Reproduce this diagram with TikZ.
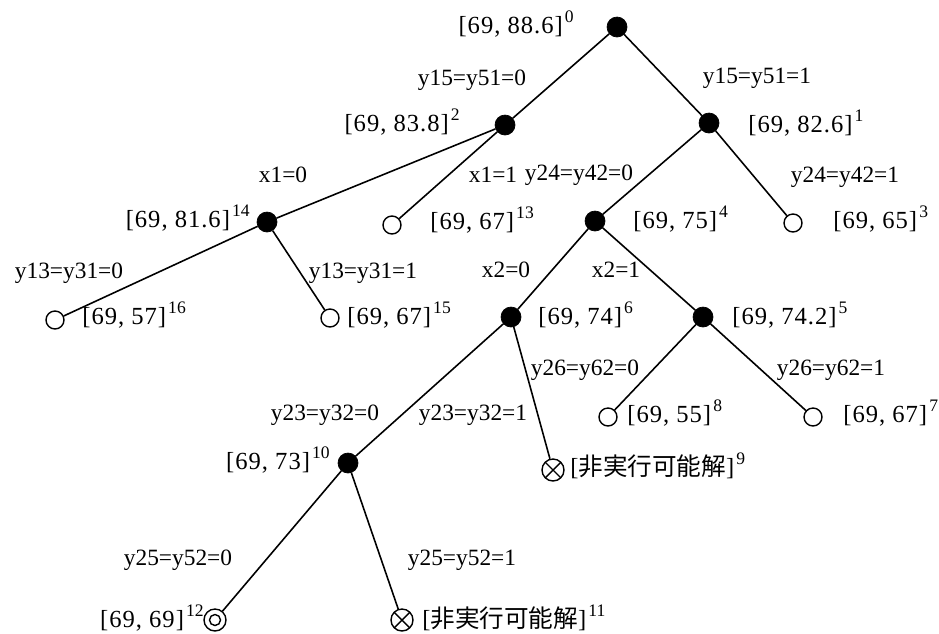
\documentclass[tikz,border=0pt]{standalone}
\usepackage{fontspec}
\setmainfont{Liberation Serif}
\newfontfamily\bndfont[LetterSpace=4]{Liberation Serif}
\newfontfamily\jpfont{Noto Sans CJK JP}
\usepackage{tikz}
\usetikzlibrary{positioning, calc}

% bound label and infeasible label
\newcommand{\nodeno}[1]{\kern1.2pt\raisebox{1ex}{\fontsize{10}{10}\selectfont #1}}
\newcommand{\bnd}[2]{{\bndfont [69, #1]}\nodeno{#2}}
\newcommand{\infs}[1]{[{\jpfont 非実行可能解}]\nodeno{#1}}

\begin{document}
\begin{tikzpicture}[
  x=0.02cm, y=-0.02cm,
  font=\fontsize{14}{16}\selectfont,
  solved/.style={circle, fill=black, draw, minimum size=0.4cm, inner sep=0pt},
  leaf/.style={circle, draw, line width=0.8pt, minimum size=0.36cm, inner sep=0pt},
  infeas/.style={circle, draw, line width=0.8pt, minimum size=0.44cm, inner sep=0pt,
    path picture={\draw[line width=0.8pt] (path picture bounding box.south west) -- (path picture bounding box.north east)
      (path picture bounding box.north west) -- (path picture bounding box.south east);}},
  best/.style={circle, draw, line width=0.8pt, minimum size=0.44cm, inner sep=0pt,
    path picture={\draw[line width=0.8pt] (path picture bounding box.center) circle (0.11cm);}},
  lbl/.style={inner sep=0pt},
  cond/.style={inner sep=0pt, font=\fontsize{13.3}{15}\selectfont},
  edge/.style={line width=0.9pt}
]
\useasboundingbox (0,0) rectangle (939,633);

% tree nodes (explicit pixel-like coordinates)
\node[solved] (n0) at (617,27) {};
\node[solved] (n2) at (505,125) {};
\node[solved] (n1) at (709,123) {};
\node[solved] (n14) at (267,222) {};
\node[leaf] (n13) at (392,225) {};
\node[solved] (n4) at (595,221) {};
\node[leaf] (n3) at (793,223) {};
\node[leaf] (n16) at (55,320) {};
\node[leaf] (n15) at (330,318) {};
\node[solved] (n6) at (511,317) {};
\node[solved] (n5) at (703,317) {};
\node[leaf] (n8) at (608,417) {};
\node[leaf] (n7) at (813,417) {};
\node[solved] (n10) at (348,463) {};
\node[infeas] (n9) at (553,470) {};
\node[best] (n12) at (215,620) {};
\node[infeas] (n11) at (402,620) {};

% branches
\draw[edge] (n0) -- (n2);
\draw[edge] (n0) -- (n1);
\draw[edge] (n2) -- (n14);
\draw[edge] (n2) -- (n13);
\draw[edge] (n1) -- (n4);
\draw[edge] (n1) -- (n3);
\draw[edge] (n14) -- (n16);
\draw[edge] (n14) -- (n15);
\draw[edge] (n4) -- (n6);
\draw[edge] (n4) -- (n5);
\draw[edge] (n6) -- (n10);
\draw[edge] (n6) -- (n9);
\draw[edge] (n5) -- (n8);
\draw[edge] (n5) -- (n7);
\draw[edge] (n10) -- (n12);
\draw[edge] (n10) -- (n11);

% bounds
\node[lbl, anchor=east] (b0) at (574,24) {\bnd{88.6}{0}};
\node[lbl, anchor=east] (b2) at (460,122) {\bnd{83.8}{2}};
\node[lbl, anchor=west] (b1) at (748,123) {\bnd{82.6}{1}};
\node[lbl, anchor=east] (b14) at (250,218) {\bnd{81.6}{14}};
\node[lbl, anchor=west] (b13) at (430,220) {\bnd{67}{13}};
\node[lbl, anchor=west] (b4) at (633,219) {\bnd{75}{4}};
\node[lbl, anchor=west] (b3) at (833,219) {\bnd{65}{3}};
\node[lbl, anchor=west] (b16) at (82,315) {\bnd{57}{16}};
\node[lbl, anchor=west] (b15) at (347,315) {\bnd{67}{15}};
\node[lbl, anchor=west] (b6) at (538,315) {\bnd{74}{6}};
\node[lbl, anchor=west] (b5) at (732,315) {\bnd{74.2}{5}};
\node[lbl, anchor=west] (b8) at (627,413) {\bnd{55}{8}};
\node[lbl, anchor=west] (b7) at (843,413) {\bnd{67}{7}};
\node[lbl, anchor=east] (b10) at (330,460) {\bnd{73}{10}};
\node[lbl, anchor=west] (b9) at (570,466) {\infs{9}};
\node[lbl, anchor=east] (b12) at (204,618) {\bnd{69}{12}};
\node[lbl, anchor=west] (b11) at (422,618) {\infs{11}};

% branching conditions
\node[cond] (c0a) at (472,80) {y15=y51=0};
\node[cond] (c0b) at (757,78) {y15=y51=1};
\node[cond] (c2a) at (283,175) {x1=0};
\node[cond] (c2b) at (493,175) {x1=1};
\node[cond] (c1a) at (579,175) {y24=y42=0};
\node[cond] (c1b) at (845,177) {y24=y42=1};
\node[cond] (c14a) at (69,273) {y13=y31=0};
\node[cond] (c14b) at (363,273) {y13=y31=1};
\node[cond] (c4a) at (506,270) {x2=0};
\node[cond] (c4b) at (616,270) {x2=1};
\node[cond] (c5a) at (585,370) {y26=y62=0};
\node[cond] (c5b) at (831,370) {y26=y62=1};
\node[cond] (c6a) at (325,415) {y23=y32=0};
\node[cond] (c6b) at (473,415) {y23=y32=1};
\node[cond] (c10a) at (178,560) {y25=y52=0};
\node[cond] (c10b) at (462,560) {y25=y52=1};
\end{tikzpicture}
\end{document}
